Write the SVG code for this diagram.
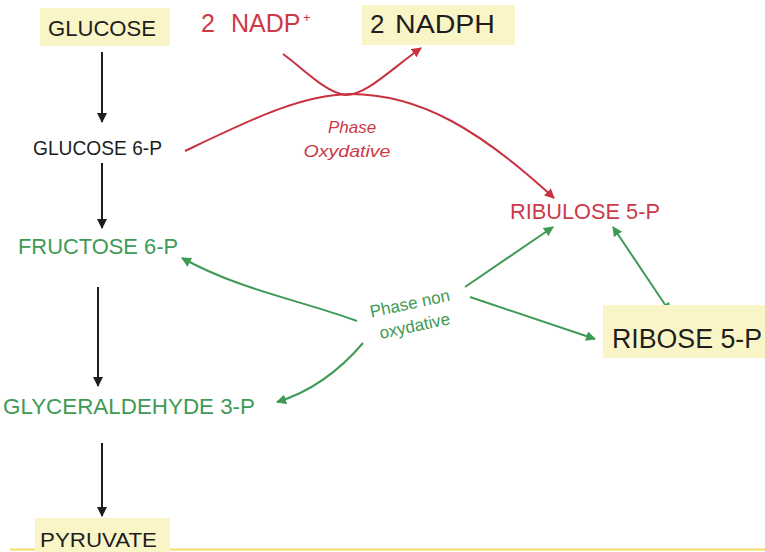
<svg xmlns="http://www.w3.org/2000/svg" width="765" height="552" viewBox="0 0 765 552">
<style>
.t{font-family:"Liberation Sans",Arial,sans-serif}
.blk{fill:#1e1e1e}
.grn{fill:#3f9a55}
.red{fill:#cc3a48}
.box{fill:#faf5c6}
.ck{stroke:#1e1e1e;stroke-width:2;fill:none;marker-end:url(#ak)}
.cr{stroke:#c8323f;stroke-width:2;fill:none}
.cg{stroke:#3f9a55;stroke-width:2;fill:none}
</style>
<defs>
<marker id="ak" viewBox="0 0 10 10" refX="9" refY="5" markerWidth="5" markerHeight="5" orient="auto"><path d="M0,0L10,5L0,10z" fill="#1e1e1e"/></marker>
<marker id="ar" viewBox="0 0 10 10" refX="9" refY="5" markerWidth="5" markerHeight="5" orient="auto"><path d="M0,0L10,5L0,10z" fill="#c8323f"/></marker>
<marker id="ag" viewBox="0 0 10 10" refX="9" refY="5" markerWidth="5" markerHeight="5" orient="auto-start-reverse"><path d="M0,0L10,5L0,10z" fill="#3f9a55"/></marker>
</defs>
<rect width="765" height="552" fill="#fff"/>
<line x1="10" y1="549.5" x2="765" y2="549.5" stroke="#f2dc6a" stroke-width="2"/>
<g id="connectors">
<line class="ck" x1="102" y1="52" x2="102" y2="122"/>
<line class="ck" x1="102" y1="163" x2="102" y2="228"/>
<line class="ck" x1="98" y1="287" x2="98" y2="386"/>
<line class="ck" x1="102" y1="443" x2="102" y2="516"/>
<path class="cr" d="M185,151 C250,120 300,95 350,94 C420,94 480,130 554,198" marker-end="url(#ar)"/>
<path class="cr" d="M283,54 C305,70 325,92 345,95 C365,96 390,70 421,48" marker-end="url(#ar)"/>
<path class="cg" d="M357,321 C300,300 240,290 182,258" marker-end="url(#ag)"/>
<path class="cg" d="M363,343 C340,370 310,392 277,402" marker-end="url(#ag)"/>
<path class="cg" d="M465,287 L553,227" marker-end="url(#ag)"/>
<path class="cg" d="M470,297 L595,339" marker-end="url(#ag)"/>
<path class="cg" d="M613,227 L670,312" marker-start="url(#ag)" marker-end="url(#ag)"/>
</g>
<g id="glucose"><rect class="box" x="40" y="8" width="130" height="38"/><text class="t blk" x="48" y="36" font-size="21.5" textLength="108" lengthAdjust="spacingAndGlyphs">GLUCOSE</text></g>
<g id="nadp"><text class="t red" y="32" font-size="25"><tspan x="201">2</tspan><tspan x="231">NADP</tspan></text><text class="t red" x="303" y="22" font-size="13">+</text></g>
<g id="nadph"><rect class="box" x="362" y="5" width="153" height="40"/><text class="t blk" y="33" font-size="26"><tspan x="370">2</tspan><tspan x="395" textLength="100" lengthAdjust="spacingAndGlyphs">NADPH</tspan></text></g>
<g id="glucose6p"><text class="t blk" x="33" y="155" font-size="19.5" textLength="129" lengthAdjust="spacingAndGlyphs">GLUCOSE 6-P</text></g>
<g id="fructose6p"><text class="t grn" x="18" y="254" font-size="21.5" textLength="160" lengthAdjust="spacingAndGlyphs">FRUCTOSE 6-P</text></g>
<g id="ga3p"><text class="t grn" x="3" y="414" font-size="22" textLength="252" lengthAdjust="spacingAndGlyphs">GLYCERALDEHYDE 3-P</text></g>
<g id="pyruvate"><rect class="box" x="35" y="518" width="135" height="34"/><text class="t blk" x="40" y="547" font-size="21" textLength="117" lengthAdjust="spacingAndGlyphs">PYRUVATE</text></g>
<g id="ribulose"><text class="t red" x="510" y="219" font-size="21.5" textLength="150" lengthAdjust="spacingAndGlyphs">RIBULOSE 5-P</text></g>
<g id="ribose"><rect class="box" x="603" y="305" width="162" height="53"/><text class="t blk" x="612" y="348" font-size="27" textLength="150" lengthAdjust="spacingAndGlyphs">RIBOSE 5-P</text></g>
<g id="phase-ox"><text class="t red" x="352" y="133" font-size="17" font-style="italic" text-anchor="middle">Phase</text><text class="t red" x="347" y="157" font-size="17" font-style="italic" text-anchor="middle" textLength="87" lengthAdjust="spacingAndGlyphs">Oxydative</text></g>
<g id="phase-nonox"><g transform="translate(411,309) rotate(-12)"><text class="t grn" x="0" y="0" font-size="17" text-anchor="middle">Phase non</text><text class="t grn" x="0" y="23" font-size="17" text-anchor="middle">oxydative</text></g></g>
</svg>
